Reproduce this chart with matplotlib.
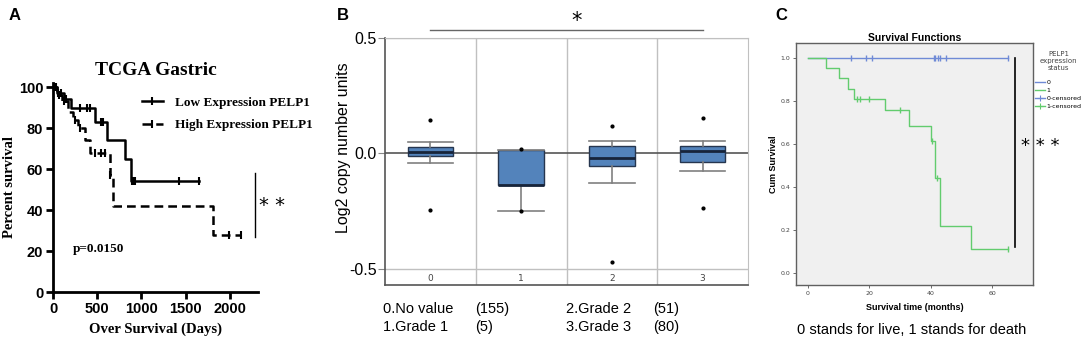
import numpy as np
import matplotlib.pyplot as plt
from matplotlib.lines import Line2D

W, H = 1084, 342

# ---- panel A: TCGA gastric survival (percent) ----
low_days = [0, 40, 120, 200, 470, 610, 810, 880, 1650]
low_surv = [100, 97, 94, 90, 83, 74, 65, 54, 54]
low_cens_days = [20, 60, 90, 150, 300, 380, 420, 540, 570, 890, 910, 930, 1430, 1650]
high_days = [0, 50, 100, 170, 230, 280, 360, 420, 640, 680, 1810, 2130]
high_surv = [100, 96, 93, 88, 84, 80, 74, 68, 57, 42, 28, 28]
high_cens_days = [30, 70, 120, 250, 300, 470, 540, 590, 650, 1990, 2130]

# ---- panel B: copy number by grade ----
grades = ['0', '1', '2', '3']
group_names = ['No value', 'Grade 1', 'Grade 2', 'Grade 3']
group_n = [155, 5, 51, 80]
box_q1 = [-0.010, -0.138, -0.055, -0.035]
box_med = [0.007, -0.138, -0.020, 0.010]
box_q3 = [0.028, 0.015, 0.033, 0.033]
whisk_lo = [-0.042, -0.249, -0.128, -0.076]
whisk_hi = [0.049, 0.015, 0.055, 0.055]
outliers = [[0.145, -0.243], [0.017, -0.249], [0.118, -0.471], [0.153, -0.235]]

# ---- panel C: survival functions by PELP1 status ----
live_months = [0, 65]
live_surv = [1.0, 1.0]
live_cens = [14, 19, 21, 41, 41.5, 42.2, 43, 45, 65]
dead_months = [0, 6, 10, 13, 15, 25, 33, 40, 41.5, 43, 53, 65]
dead_surv = [1.0, 0.952, 0.905, 0.857, 0.81, 0.756, 0.684, 0.615, 0.44, 0.22, 0.11, 0.11]
dead_cens = [16, 17, 20, 30, 40.5, 42, 65]


def surv_at(t, times, surv):
    i = np.searchsorted(times, t, side='right') - 1
    return np.array(surv)[i]


def box_px(l, t, r, b):
    return [l / W, 1 - b / H, (r - l) / W, (b - t) / H]


def ftxt(x, y, s, **kw):
    fig.text(x / W, 1 - y / H, s, **kw)


fig = plt.figure(figsize=(W / 100, H / 100), dpi=100)
serif = 'Liberation Serif'
sans = 'Liberation Sans'

# =================== A ===================
axA = fig.add_axes(box_px(53, 83, 258, 292))
axA.step(low_days, low_surv, where='post', color='black', lw=1.8)
axA.step(high_days, high_surv, where='post', color='black', lw=1.8, ls=(0, (3.5, 2)))
axA.plot(low_cens_days, surv_at(low_cens_days, low_days, low_surv), ls='none',
         marker='|', ms=6, mew=1.5, color='black')
axA.plot(high_cens_days, surv_at(high_cens_days, high_days, high_surv), ls='none',
         marker='|', ms=6, mew=1.5, color='black')
axA.set_xlim(0, 2320)
axA.set_ylim(0, 102)
axA.set_xticks([0, 500, 1000, 1500, 2000])
axA.set_yticks([0, 20, 40, 60, 80, 100])
for s in ['top', 'right']:
    axA.spines[s].set_visible(False)
for s in ['left', 'bottom']:
    axA.spines[s].set_linewidth(2)
axA.tick_params(width=2, length=5, labelsize=10.5, pad=2)
for lab in axA.get_xticklabels() + axA.get_yticklabels():
    lab.set_fontweight('bold')
    lab.set_family(sans)
axA.set_xlabel('Over Survival (Days)', family=serif, fontweight='bold', fontsize=10.5, labelpad=5)
axA.set_ylabel('Percent survival', family=serif, fontweight='bold', fontsize=10.5, labelpad=2)
axA.set_title('TCGA Gastric', family=serif, fontweight='bold', fontsize=14, pad=6)
hA = [Line2D([], [], color='black', lw=1.8, marker='|', ms=6, mew=1.5),
      Line2D([], [], color='black', lw=1.8, ls=(0, (3.5, 2)), marker='|', ms=6, mew=1.5)]
axA.legend(hA, ['Low Expression PELP1', 'High Expression PELP1'], loc='upper left',
           bbox_to_anchor=(130 / W, 1 - 85 / H), bbox_transform=fig.transFigure,
           frameon=False, handlelength=1.6, handletextpad=0.9, labelspacing=0.75,
           prop={'family': serif, 'weight': 'bold', 'size': 9.5})
axA.text(226, 21, 'p=0.0150', family=serif, fontweight='bold', fontsize=9.5, va='center')
axA.plot([2290, 2290], [27, 58], color='black', lw=1, clip_on=False)
axA.text(2475, 42, '* *', fontsize=14, ha='center', va='center', clip_on=False)

# =================== B ===================
axB = fig.add_axes(box_px(385, 38, 748, 285))
stats = []
for i in range(len(grades)):
    stats.append(dict(med=box_med[i], q1=box_q1[i], q3=box_q3[i],
                      whislo=whisk_lo[i], whishi=whisk_hi[i], fliers=outliers[i]))
axB.axhline(0, color='#555555', lw=1.2, zorder=1)
for yv in [0.5, -0.5]:
    axB.axhline(yv, color='#c0c0c0', lw=1, zorder=0)
for xv in [0.5, 1.5, 2.5]:
    axB.axvline(xv, color='#c0c0c0', lw=1, zorder=0)
axB.bxp(stats, positions=range(len(grades)), widths=0.5, capwidths=0.5, patch_artist=True,
        boxprops=dict(facecolor='#5383bb', edgecolor='#26364f', lw=1),
        medianprops=dict(color='#17243a', lw=2),
        whiskerprops=dict(color='#808080', lw=1.2),
        capprops=dict(color='#808080', lw=1.2),
        flierprops=dict(marker='o', markersize=2, markerfacecolor='black',
                        markeredgecolor='black'))
axB.set_xlim(-0.5, 3.5)
axB.set_ylim(-0.57, 0.5)
axB.set_yticks([-0.5, 0.0, 0.5])
axB.set_yticklabels(['-0.5', '0.0', '0.5'])
axB.set_xticks(range(len(grades)))
axB.set_xticklabels(grades)
axB.tick_params(axis='x', length=0, pad=-8, labelsize=6.5, labelcolor='#444444')
axB.tick_params(axis='y', length=5, color='#888888', labelsize=11.5, pad=1)
for lab in axB.get_yticklabels():
    lab.set_family(sans)
for s in ['top', 'right']:
    axB.spines[s].set_color('#c0c0c0')
for s in ['left', 'bottom']:
    axB.spines[s].set_color('#555555')
    axB.spines[s].set_linewidth(1.2)
axB.set_ylabel('Log2 copy number units', family=sans, fontsize=11.5)
axB.yaxis.set_label_coords(-0.093, 0.555)
axB.plot([0, 3], [0.535, 0.535], color='#666666', lw=1, clip_on=False)
axB.text(1.61, 0.575, '*', fontsize=15, ha='center', va='center', clip_on=False)

for i in range(len(grades)):
    col_x = 383 if i in (0, 1) else 566
    par_x = 475 if i in (0, 1) else 653
    row_y = 309 if i in (0, 2) else 327
    ftxt(col_x, row_y, f'{i}.{group_names[i]}', family=sans, fontsize=10.5, va='center')
    ftxt(par_x, row_y, f'({group_n[i]})', family=sans, fontsize=10.5, va='center')

# =================== C ===================
blue = '#6f8ad6'
green = '#62cc6e'
axC = fig.add_axes(box_px(796, 43, 1033, 285))
axC.set_facecolor('#f0f0f0')
axC.step(live_months, live_surv, where='post', color=blue, lw=1)
axC.step(dead_months, dead_surv, where='post', color=green, lw=1)
axC.plot(live_cens, surv_at(live_cens, live_months, live_surv), ls='none', marker='|',
         ms=4, mew=1, color=blue)
axC.plot(dead_cens, surv_at(dead_cens, dead_months, dead_surv), ls='none', marker='|',
         ms=4, mew=1, color=green)
axC.set_xlim(-3.9, 73.3)
axC.set_ylim(-0.056, 1.07)
axC.set_xticks([0, 20, 40, 60])
axC.set_yticks([0.0, 0.2, 0.4, 0.6, 0.8, 1.0])
axC.set_yticklabels(['0.0', '0.2', '0.4', '0.6', '0.8', '1.0'])
axC.tick_params(labelsize=4.5, length=2, width=0.6, color='#555555', labelcolor='#444444', pad=2)
for s in axC.spines.values():
    s.set_color('#606060')
    s.set_linewidth(1)
axC.set_title('Survival Functions', fontsize=7.5, fontweight='bold', family=sans, pad=1.5)
axC.set_xlabel('Survival time (months)', fontsize=6.5, fontweight='bold', family=sans, labelpad=5)
axC.set_ylabel('Cum Survival', fontsize=6.5, fontweight='bold', family=sans, labelpad=2)
axC.plot([67.5, 67.5], [0.12, 1.0], color='black', lw=1.2)
axC.text(75.6, 0.59, '* * *', fontsize=13, ha='center', va='center', clip_on=False)
hC = [Line2D([], [], color=blue, lw=1), Line2D([], [], color=green, lw=1),
      Line2D([], [], color=blue, lw=1, marker='+', ms=4, mew=0.8),
      Line2D([], [], color=green, lw=1, marker='+', ms=4, mew=0.8)]
legC = axC.legend(hC, ['0', '1', '0-censored', '1-censored'], loc='upper left',
                  bbox_to_anchor=(1031 / W, 1 - 47 / H), bbox_transform=fig.transFigure,
                  frameon=False, fontsize=4.5, title='PELP1\nexpression\nstatus',
                  title_fontsize=5, handlelength=1.6, handletextpad=0.2, labelspacing=0.42,
                  borderpad=0.2)
legC.get_title().set_multialignment('center')
legC.get_title().set_color('#444444')
legC._legend_box.sep = 6

ftxt(912, 330, '0 stands for live, 1 stands for death', family=sans, fontsize=10.5,
     ha='center', va='center')

# panel letters
ftxt(15, 15, 'A', family=sans, fontweight='bold', fontsize=12, ha='center', va='center')
ftxt(343, 15, 'B', family=sans, fontweight='bold', fontsize=12, ha='center', va='center')
ftxt(781, 15, 'C', family=sans, fontweight='bold', fontsize=12, ha='center', va='center')

fig.savefig('out.png', dpi=100)
